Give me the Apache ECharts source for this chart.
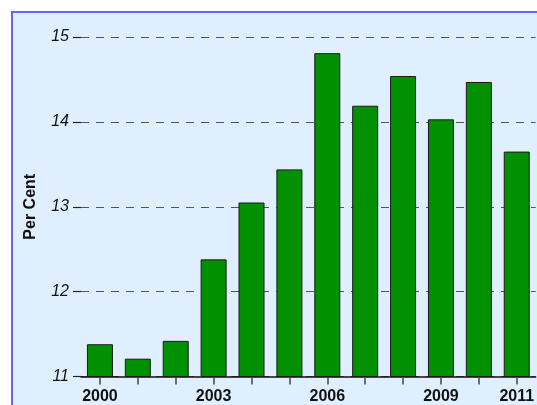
<!DOCTYPE html>
<html>
<head>
<meta charset="utf-8">
<script src="https://cdn.jsdelivr.net/npm/echarts@6/dist/echarts.min.js"></script>
<style>
  html, body { margin: 0; padding: 0; background: #fff; }
  #chart { width: 537px; height: 405px; }
</style>
</head>
<body>
<div id="chart"></div>
<script>
var years = ['2000', '2001', '2002', '2003', '2004', '2005', '2006', '2007', '2008', '2009', '2010', '2011'];
var perCent = [11.38, 11.21, 11.42, 12.38, 13.05, 13.44, 14.81, 14.19, 14.54, 14.03, 14.47, 13.65];
var shownYears = ['2000', '2003', '2006', '2009', '2011'];

var font = '"Liberation Sans", Arial, sans-serif';

var chart = echarts.init(document.getElementById('chart'));

var option = {
    backgroundColor: '#ffffff',
    animation: false,
    graphic: [{
        type: 'rect',
        z: -10,
        silent: true,
        shape: { x: 12, y: 12, width: 620, height: 500 },
        style: { fill: '#dfeffe', stroke: '#6464ff', lineWidth: 2 }
    }],
    grid: {
        left: 81,
        right: -1,
        top: 37,
        bottom: 28.5
    },
    xAxis: {
        type: 'category',
        data: years,
        axisLine: { show: true, lineStyle: { color: '#111', width: 1.5 } },
        axisTick: {
            show: true,
            alignWithLabel: true,
            length: 8,
            interval: 0,
            lineStyle: { color: '#444', width: 1.5 }
        },
        axisLabel: {
            interval: 0,
            margin: 12,
            fontFamily: font,
            fontSize: 16,
            fontWeight: 'bold',
            color: '#111',
            formatter: function (value) {
                return shownYears.indexOf(value) >= 0 ? value : '';
            }
        },
        splitLine: { show: false }
    },
    yAxis: {
        type: 'value',
        min: 11,
        max: 15,
        interval: 1,
        name: 'Per Cent',
        nameLocation: 'middle',
        nameRotate: 90,
        nameGap: 42,
        nameTextStyle: {
            fontFamily: font,
            fontSize: 16,
            fontWeight: 'bold',
            color: '#111'
        },
        axisLine: { show: false },
        axisTick: {
            show: true,
            length: 8,
            lineStyle: { color: '#222', width: 1.2 }
        },
        axisLabel: {
            margin: 12,
            fontFamily: font,
            fontSize: 16,
            fontStyle: 'italic',
            color: '#111'
        },
        splitLine: {
            show: true,
            lineStyle: { color: '#555', width: 1.2, type: [8, 7] }
        }
    },
    series: [{
        type: 'bar',
        data: perCent,
        barWidth: 26,
        itemStyle: {
            color: '#009000',
            borderColor: '#1a1a1a',
            borderWidth: 1
        }
    }]
};

chart.setOption(option);
</script>
</body>
</html>
